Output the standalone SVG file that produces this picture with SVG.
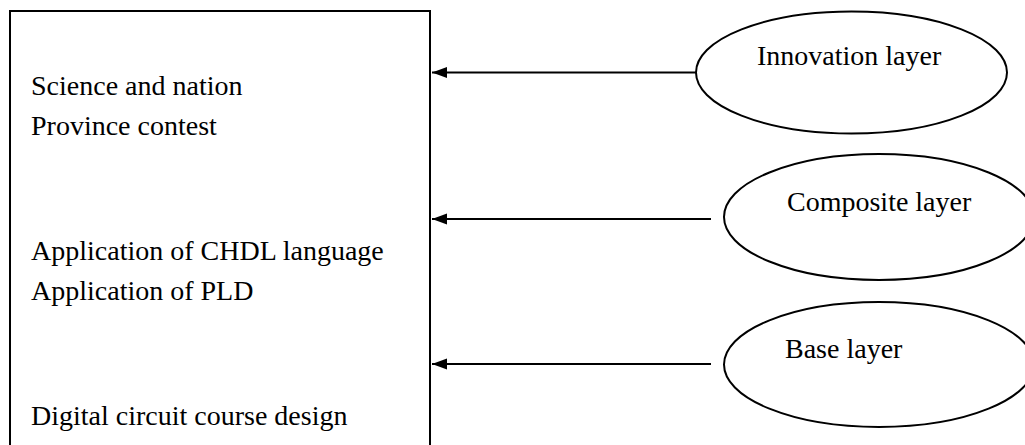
<svg xmlns="http://www.w3.org/2000/svg" width="1025" height="445" viewBox="0 0 1025 445">
<style>
.t{font-family:"Liberation Serif","Times New Roman",serif;font-size:28px;fill:#000}
.sh{fill:#fff;stroke:#000;stroke-width:2}
.c{stroke:#000;stroke-width:2;fill:none}
</style>
<defs>
<marker id="ah" markerUnits="userSpaceOnUse" markerWidth="16" markerHeight="12" refX="15" refY="6" orient="auto">
<path d="M0,0.5 L15,6 L0,11.5 Z" fill="#000"/>
</marker>
</defs>
<rect width="1025" height="445" fill="#fff"/>
<g id="main-box">
<rect class="sh" x="10" y="11" width="420" height="450"/>
<text class="t" x="31" y="95">Science and nation</text>
<text class="t" x="31" y="135">Province contest</text>
<text class="t" x="31" y="260">Application of CHDL language</text>
<text class="t" x="31" y="300">Application of PLD</text>
<text class="t" x="31" y="425">Digital circuit course design</text>
</g>
<g id="innovation">
<ellipse class="sh" cx="851.5" cy="72.5" rx="155.5" ry="61"/>
<text class="t" x="757" y="65">Innovation layer</text>
</g>
<g id="composite">
<ellipse class="sh" cx="879" cy="217" rx="155" ry="63"/>
<text class="t" x="787" y="211">Composite layer</text>
</g>
<g id="base">
<ellipse class="sh" cx="879" cy="364.5" rx="155" ry="62.5"/>
<text class="t" x="785" y="358">Base layer</text>
</g>
<g id="connectors">
<line class="c" x1="696" y1="72.5" x2="432" y2="72.5" marker-end="url(#ah)"/>
<line class="c" x1="711" y1="219" x2="432" y2="219" marker-end="url(#ah)"/>
<line class="c" x1="711" y1="364" x2="432" y2="364" marker-end="url(#ah)"/>
</g>
</svg>
